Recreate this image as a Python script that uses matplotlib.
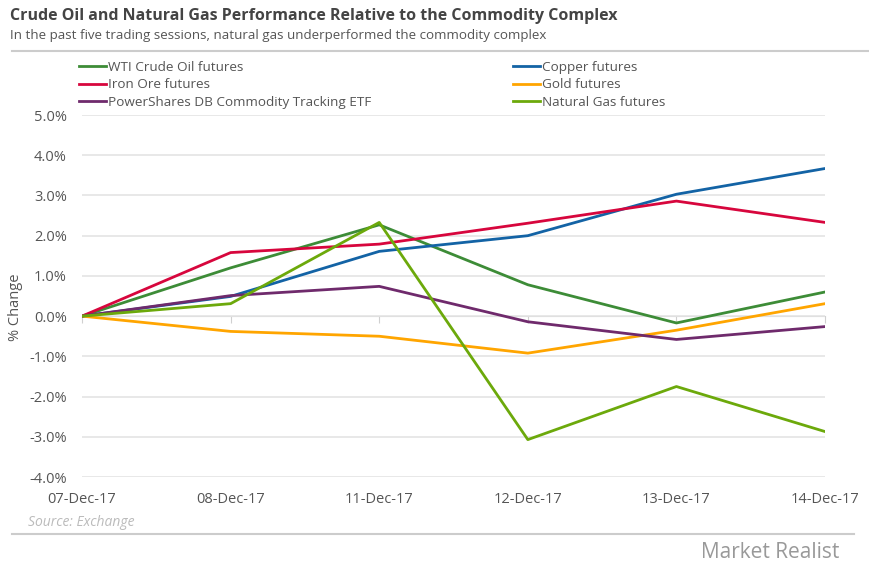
import matplotlib
matplotlib.use('Agg')
import matplotlib.pyplot as plt
from matplotlib.lines import Line2D

plt.rcParams['font.family'] = ['Open Sans', 'DejaVu Sans']

dates = ['07-Dec-17', '08-Dec-17', '11-Dec-17', '12-Dec-17', '13-Dec-17', '14-Dec-17']

wti = [0.0, 1.20, 2.27, 0.78, -0.17, 0.60]
copper = [0.0, 0.49, 1.61, 2.00, 3.03, 3.67]
iron_ore = [0.0, 1.58, 1.79, 2.31, 2.86, 2.33]
gold = [0.0, -0.38, -0.50, -0.92, -0.35, 0.31]
powershares = [0.0, 0.51, 0.74, -0.14, -0.58, -0.26]
nat_gas = [0.0, 0.31, 2.33, -3.07, -1.75, -2.87]

names = ['WTI Crude Oil futures', 'Copper futures', 'Iron Ore futures',
         'Gold futures', 'PowerShares DB Commodity Tracking ETF',
         'Natural Gas futures']
series = [wti, copper, iron_ore, gold, powershares, nat_gas]
colors = ['#3d8c37', '#1363a5', '#d7063d', '#ffa500', '#6f2a6c', '#6ca90b']

fig = plt.figure(figsize=(8.7, 5.66), dpi=100)
ax = fig.add_axes([0.0943, 0.1572, 0.8540, 0.6396])

x = list(range(len(dates)))
lines = []
for vals, name, col in zip(series, names, colors):
    ln, = ax.plot(x, vals, color=col, lw=2.0, label=name)
    lines.append(ln)

ax.set_xlim(0, 5)
ax.set_ylim(-4, 5)
ax.set_yticks(range(-4, 6))
ax.set_yticklabels(['{:.1f}%'.format(v) for v in range(-4, 6)])
ax.tick_params(axis='y', length=0, pad=11, labelsize=10.5, labelcolor='#555555')
ax.grid(axis='y', color='#e4e4e4', lw=1.2)
ax.set_axisbelow(True)

for s in ['left', 'right', 'top']:
    ax.spines[s].set_visible(False)
ax.spines['bottom'].set_position(('data', 0))
ax.spines['bottom'].set_color('#d0d0d0')
ax.spines['bottom'].set_zorder(0.5)
ax.set_xticks(x)
ax.tick_params(axis='x', length=5, color='#d0d0d0', labelbottom=False)

sec = ax.secondary_xaxis('bottom')
sec.set_xticks(x, dates)
sec.tick_params(length=0, pad=11, labelsize=10.5, labelcolor='#555555')
sec.spines['bottom'].set_visible(False)

ax.set_ylabel('% Change', fontsize=10.5, color='#555555', va='center')
ax.yaxis.set_label_coords(-0.09, 0.47)

# legend in two columns, column-first order
order = [0, 2, 4, 1, 3, 5]
leg = fig.legend([lines[i] for i in order], [names[i] for i in order],
                 ncol=2, loc='upper left', bbox_to_anchor=(0.0908, 0.893),
                 frameon=False, fontsize=9.7, handlelength=2.0,
                 handletextpad=0.15, columnspacing=10.5, labelspacing=0.35,
                 borderaxespad=0, borderpad=0)
for t in leg.get_texts():
    t.set_color('#555555')

fig.text(0.0115, 0.972, 'Crude Oil and Natural Gas Performance Relative to the Commodity Complex',
         fontsize=11.5, fontweight='bold', color='#444444', va='center')
fig.text(0.0115, 0.938, 'In the past five trading sessions, natural gas underperformed the commodity complex',
         fontsize=9.6, color='#555555', va='center')
fig.add_artist(Line2D([0.014, 1.0], [0.910, 0.910], color='#cccccc', lw=1.5))

fig.text(0.032, 0.076, 'Source: Exchange', fontsize=10, style='italic',
         color='#bbbbbb', va='center')
fig.add_artist(Line2D([0.014, 0.982], [0.057, 0.057], color='#cccccc', lw=1.5))
fig.text(0.965, 0.024, 'Market Realist', fontsize=15, color='#999999',
         ha='right', va='center')

plt.savefig('out.png', dpi=100)
